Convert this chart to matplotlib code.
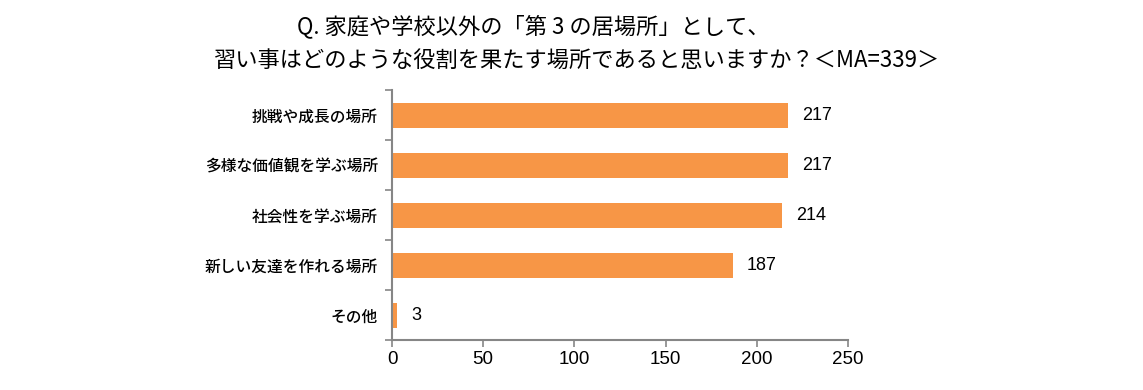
import matplotlib
matplotlib.use("Agg")
import matplotlib.pyplot as plt
import numpy as np

plt.rcParams['font.family'] = ['Noto Sans CJK JP', 'DejaVu Sans']

categories = ["挑戦や成長の場所", "多様な価値観を学ぶ場所", "社会性を学ぶ場所", "新しい友達を作れる場所", "その他"]
values = [217, 217, 214, 187, 3]
xticks = [0, 50, 100, 150, 200, 250]
title_line1 = "Q. 家庭や学校以外の「第 3 の居場所」として、"
title_line2 = "習い事はどのような役割を果たす場所であると思いますか？＜MA=339＞"

bar_color = "#F79646"
axis_color = "#868686"

fig = plt.figure(figsize=(11.43, 3.90), dpi=100)
ax = fig.add_axes([392/1143, 1 - 340/390, (848-392)/1143, (340-90)/390])

y = np.arange(len(categories))
ax.barh(y, values, height=0.5, color=bar_color)
ax.set_ylim(len(categories) - 0.5, -0.5)
ax.set_xlim(0, 250)

for yi, v in zip(y, values):
    ax.annotate(str(v), xy=(v, yi), xytext=(10, 0), textcoords="offset points",
                ha="left", va="center", fontsize=13, family="Liberation Sans", color="black")

ax.set_yticks(y)
ax.set_yticklabels(categories, fontsize=11.3, fontweight="medium")
ax.tick_params(axis="y", which="major", length=0, pad=10)
ax.set_yticks(np.arange(-0.5, len(categories) + 0.5, 1.0), minor=True)
ax.tick_params(axis="y", which="minor", length=5, width=1.2, color=axis_color, direction="out")

ax.set_xticks(xticks)
ax.set_xticklabels([str(t) for t in xticks], fontsize=13.5, family="Liberation Sans")
ax.tick_params(axis="x", length=5, width=1.2, color=axis_color, direction="out", pad=3)

for s in ["top", "right"]:
    ax.spines[s].set_visible(False)
for s in ["left", "bottom"]:
    ax.spines[s].set_color(axis_color)
    ax.spines[s].set_linewidth(1.5)

fig.text(533/1143, 1 - 26/390, title_line1, ha="center", va="center", fontsize=16, color="black")
fig.text(577/1143, 1 - 61/390, title_line2, ha="center", va="center", fontsize=16, color="black")

fig.savefig("out.png", dpi=100)
